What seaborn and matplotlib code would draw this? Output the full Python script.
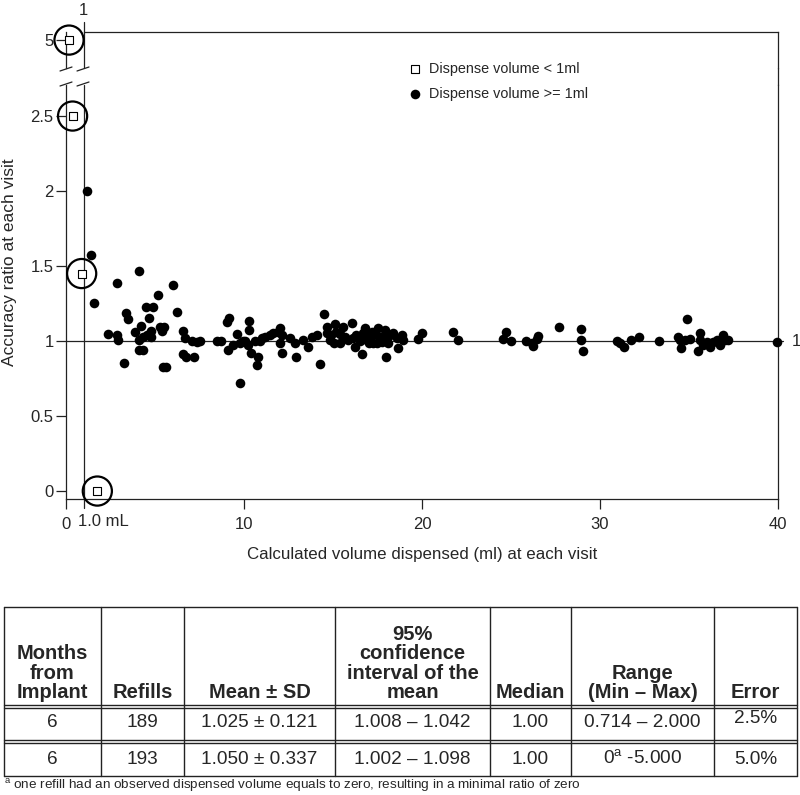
import numpy as np
import pandas as pd
import matplotlib
matplotlib.use("Agg")
from matplotlib import pyplot as plt
from matplotlib.lines import Line2D
import seaborn as sns

# dispensed volume >= 1 ml (filled dots)
dot_x = [1.20, 1.39, 1.57, 4.08, 2.88, 5.99, 5.17, 4.49, 4.90, 6.25, 3.37, 3.48, 4.64, 9.03, 9.17,
         10.28, 4.19, 5.28, 5.51, 4.75, 10.28, 6.59, 9.59, 2.38, 2.88, 4.57, 2.94, 4.08, 4.75, 6.69,
         7.06, 7.34, 7.53, 8.47, 8.69, 9.96, 10.62, 9.40, 9.12, 9.78, 10.24, 10.38, 10.80, 10.71, 4.10,
         4.31, 6.59, 6.72, 7.19, 3.28, 5.47, 5.62, 9.78,
         10.06, 10.90, 11.18, 11.46, 11.65, 12.02, 12.11, 12.02, 12.11, 12.58, 12.87, 12.90, 13.33, 13.61,
         13.80, 14.08, 14.27, 14.51, 14.64, 14.64, 14.83, 15.11, 15.17, 15.06, 15.39, 15.58, 15.67, 16.08,
         15.86, 16.14, 16.24, 16.61, 16.42, 16.71, 16.80, 16.89, 17.08, 17.17, 17.26, 17.45, 17.54, 17.64,
         17.73, 17.92, 18.02, 18.11, 17.98, 18.39, 18.58, 18.67, 18.86, 18.95, 19.79, 19.98,
         21.72, 22.02, 24.72, 24.57, 24.98, 25.84, 26.16, 26.25, 26.44, 26.53, 27.71, 28.93, 28.93, 29.03,
         30.97, 31.12, 31.35, 31.72, 32.21, 33.33, 34.90, 34.40, 34.49, 34.53, 34.78, 35.06, 35.62, 35.62,
         35.52, 35.80, 35.99, 36.18, 36.37, 36.55, 36.74, 36.89, 37.02, 37.21, 39.93,
         16.30, 16.50, 17.00, 17.35, 17.85, 18.20, 15.40, 14.90, 11.90, 11.00, 3.90, 4.30, 5.40]
dot_y = [2.000, 1.575, 1.255, 1.467, 1.385, 1.373, 1.310, 1.229, 1.229, 1.193, 1.190, 1.147, 1.153, 1.129, 1.151,
         1.131, 1.100, 1.093, 1.093, 1.069, 1.073, 1.067, 1.044, 1.044, 1.038, 1.038, 1.007, 1.007, 1.025, 1.018,
         1.000, 0.995, 1.000, 1.000, 1.000, 1.000, 1.000, 0.973, 0.940, 0.984, 0.973, 0.918, 0.895, 0.840, 0.940,
         0.940, 0.913, 0.895, 0.891, 0.851, 0.824, 0.829, 0.718,
         1.000, 1.000, 1.029, 1.040, 1.051, 1.084, 1.040, 0.984, 0.918, 1.018, 0.984, 0.895, 1.007, 0.962,
         1.029, 1.040, 0.847, 1.180, 1.095, 1.051, 1.007, 1.113, 1.062, 0.984, 0.984, 1.095, 1.029, 1.122,
         1.007, 1.018, 0.962, 0.913, 1.029, 1.051, 1.084, 1.007, 1.029, 1.062, 0.984, 0.984, 1.084, 1.029,
         0.995, 1.073, 1.029, 0.984, 0.891, 1.051, 1.018, 0.951, 1.040, 1.007, 1.011, 1.055,
         1.062, 1.007, 1.062, 1.011, 1.002, 1.002, 0.984, 0.967, 1.011, 1.033, 1.091, 1.078, 1.007, 0.933,
         1.000, 0.984, 0.962, 1.007, 1.029, 1.002, 1.144, 1.029, 1.007, 0.951, 1.007, 1.011, 1.051, 1.007,
         0.933, 0.973, 0.995, 0.962, 0.995, 1.007, 0.973, 1.040, 1.007, 1.007, 0.995,
         1.040, 1.000, 0.990, 1.050, 1.010, 1.040, 1.050, 1.040, 1.060, 1.020, 1.060, 1.030, 1.070]

# dispensed volume < 1 ml (open squares, circled)
sq_x = [0.17, 0.37, 0.88, 1.76]
sq_y = [5.0, 2.5, 1.45, 0.0]

# table
headers = ["Months\nfrom\nImplant", "Refills", "Mean ± SD", "95%\nconfidence\ninterval of the\nmean",
           "Median", "Range\n(Min – Max)", "Error"]
months = ["6", "6"]
refills = ["189", "193"]
mean_sd = ["1.025 ± 0.121", "1.050 ± 0.337"]
ci95 = ["1.008 – 1.042", "1.002 – 1.098"]
medians = ["1.00", "1.00"]
ranges = ["0.714 – 2.000", "0$^{\\mathrm{a}}$ -5.000"]
errors = ["2.5%", "5.0%"]
footnote = "$^{\\mathrm{a}}$ one refill had an observed dispensed volume equals to zero, resulting in a minimal ratio of zero"

sns.set_theme(style="ticks")
plt.rcParams['font.family'] = ['Liberation Sans', 'DejaVu Sans']
plt.rcParams['mathtext.fontset'] = 'custom'
plt.rcParams['mathtext.rm'] = 'Liberation Sans'

W, H = 800, 795
fig = plt.figure(figsize=(8, 7.95), dpi=100)

def fx(px):
    return px / W

def fy(py):
    return 1 - py / H

lc = "#222222"
ax_top = fig.add_axes([fx(66), fy(68), fx(778 - 66), fy(32) - fy(68)])
ax_bot = fig.add_axes([fx(66), fy(499), fx(778 - 66), fy(85) - fy(499)])

dots = pd.DataFrame({"x": dot_x, "y": dot_y})
squares = pd.DataFrame({"x": sq_x, "y": sq_y})

for ax, part in [(ax_top, squares[squares.y > 4]), (ax_bot, squares[squares.y < 3])]:
    sns.scatterplot(data=part, x="x", y="y", ax=ax, marker="o", s=440, facecolor="none",
                    edgecolor="black", linewidth=1.6, clip_on=False, zorder=4)
    sns.scatterplot(data=part, x="x", y="y", ax=ax, marker="s", s=28, facecolor="white",
                    edgecolor="black", linewidth=0.8, clip_on=False, zorder=5,
                    label="Dispense volume < 1ml")
sns.scatterplot(data=dots, x="x", y="y", ax=ax_bot, marker="o", s=48, color="black",
                linewidth=0, clip_on=False, zorder=5, label="Dispense volume >= 1ml")

ax_top.set_xlim(0, 40)
ax_top.set_ylim(4.81, 5.055)
ax_bot.set_xlim(0, 40)
ax_bot.set_ylim(-0.053, 2.707)

for ax in (ax_top, ax_bot):
    ax.set_xlabel("")
    ax.set_ylabel("")
    for s in ax.spines.values():
        s.set_color(lc)
        s.set_linewidth(0.9)
    ax.tick_params(direction="out", length=7, width=0.9, color=lc, labelsize=12, pad=2)

ax_top.spines["bottom"].set_visible(False)
ax_top.spines["top"].set_bounds(1, 40)
ax_top.set_xticks([])
ax_top.set_yticks([5])
ax_top.set_yticklabels(["5"])
ax_bot.spines["top"].set_visible(False)
ax_bot.set_yticks([0, 0.5, 1, 1.5, 2, 2.5])
ax_bot.set_yticklabels(["0", "0.5", "1", "1.5", "2", "2.5"])
ax_bot.set_xticks([0, 10, 20, 30, 40])
ax_bot.set_xticklabels(["0", "10", "20", "30", "40"])
ax_bot.tick_params(axis="x", pad=6)
ax_bot.text(0.65, -0.2, "1.0 mL", ha="left", va="center", fontsize=12)

# reference lines at ratio 1 and volume 1.0 mL
ax_bot.plot([0, 40.28], [1, 1], color=lc, lw=0.9, clip_on=False, zorder=2)
ax_bot.text(40.75, 1, "1", ha="left", va="center", fontsize=12)
ax_bot.plot([1, 1], [-0.113, 2.707], color=lc, lw=0.9, clip_on=False, zorder=2)
ax_top.plot([1, 1], [4.81, 5.12], color=lc, lw=0.9, clip_on=False, zorder=2)
ax_top.text(1, 5.2, "1", ha="center", va="center", fontsize=12)

# right frame across the break and break marks
fig.add_artist(Line2D([fx(778), fx(778)], [fy(68), fy(85)], color=lc, lw=0.9))
for bx in (66, 83):
    for by in (69, 84):
        fig.add_artist(Line2D([fx(bx - 6), fx(bx + 6)], [fy(by + 2), fy(by - 2)], color=lc, lw=0.9))

if ax_top.get_legend():
    ax_top.get_legend().remove()
handles, labels = ax_bot.get_legend_handles_labels()
ax_bot.legend(handles, labels, loc="upper left", bbox_to_anchor=(fx(409), fy(62)),
              bbox_transform=fig.transFigure, frameon=False, fontsize=10.4, handlelength=0.8,
              handletextpad=0.6, labelspacing=0.75, borderpad=0, borderaxespad=0)

fig.text(fx(10), fy(262), "Accuracy ratio at each visit", rotation=90, ha="center", va="center", fontsize=12.5)
fig.text(fx(422), fy(555), "Calculated volume dispensed (ml) at each visit", ha="center", va="center", fontsize=12.2)

# summary table
tab = fig.add_axes([0, 0, 1, 1], zorder=-1)
tab.set_xlim(0, W)
tab.set_ylim(H, 0)
tab.axis("off")
col_edges = [4, 101, 184, 335, 490, 571, 714, 797]
row_top, row_bottom = 607, 776
for cx in col_edges:
    tab.plot([cx, cx], [row_top, row_bottom], color=lc, lw=1)
for ry in (607, 705, 708, 740, 743, 776):
    tab.plot([col_edges[0], col_edges[-1]], [ry, ry], color=lc, lw=1)
centers = [(a + b) / 2 for a, b in zip(col_edges[:-1], col_edges[1:])]
for cx, h in zip(centers, headers):
    tab.text(cx, 702, h, ha="center", va="bottom", fontsize=14.5, fontweight="bold", linespacing=1.02)
for i, ry in enumerate((722.5, 759)):
    row = [months[i], refills[i], mean_sd[i], ci95[i], medians[i], ranges[i], errors[i]]
    for j, (cx, val) in enumerate(zip(centers, row)):
        yy = ry - 4 if (i == 0 and j == 6) else ry
        tab.text(cx, yy, val, ha="center", va="center", fontsize=13.7)
tab.text(4, 785, footnote, ha="left", va="center", fontsize=9.7)

fig.savefig("out.png", dpi=100)
